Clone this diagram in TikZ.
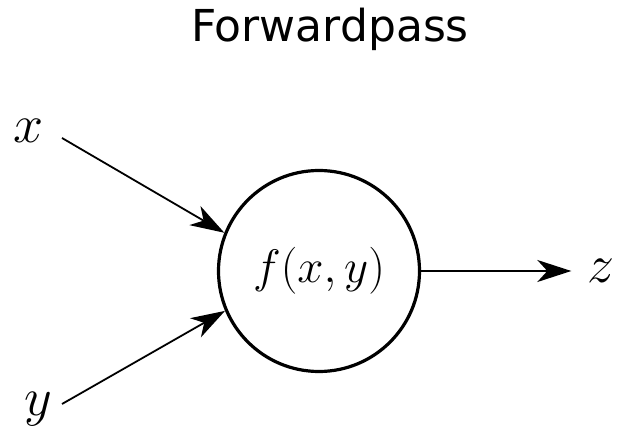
\RequirePackage{fix-cm}
\documentclass[tikz,border=0pt]{standalone}
\usepackage{fontspec}
\newfontfamily\titlefont{DejaVu Sans}
\usetikzlibrary{arrows.meta}

\tikzset{
  flow/.style={-{Stealth[length=34pt,width=22pt,inset=10pt]}, line width=1.8pt},
  var/.style={font=\fontsize{54}{58}\selectfont, inner sep=0pt},
}

\begin{document}
\begin{tikzpicture}[x=1pt,y=-1pt]
  \useasboundingbox (0,0) rectangle (619,427);

  % Title
  \node[font=\titlefont\fontsize{44}{50}\selectfont, anchor=base] (title) at (330,42) {Forwardpass};

  % Function node
  \node[draw, circle, line width=3.2pt, minimum size=201pt, font=\fontsize{47}{52}\selectfont] (f) at (319,271) {$f(x,y)$};

  % Inputs and output
  \node[var] (x) at (29,131) {$x$};
  \node[var] (y) at (38,409) {$y$};
  \node[var] (z) at (601,271) {$z$};
  \coordinate (xs) at (62,138);
  \coordinate (ys) at (62,404);

  % Arrows
  \draw[flow] (xs) -- (f.158);
  \draw[flow] (ys) -- (f.203);
  \draw[flow, shorten >=16pt] (f) -- (z);
\end{tikzpicture}
\end{document}
